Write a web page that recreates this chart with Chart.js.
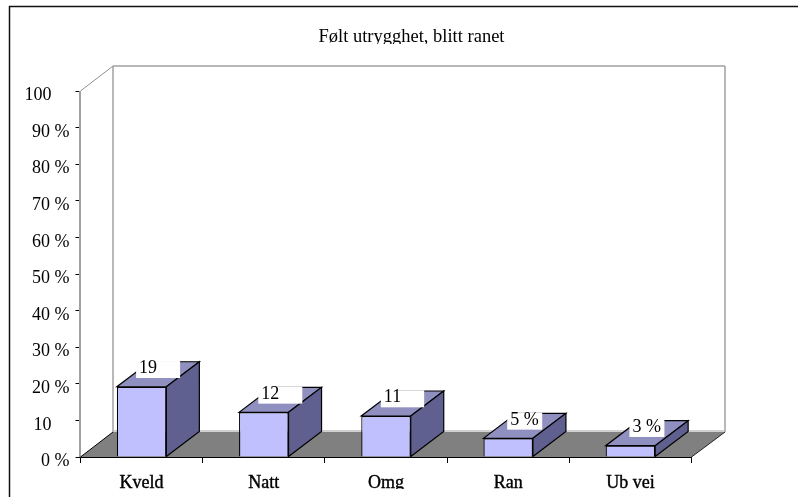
<!DOCTYPE html>
<html>
<head>
<meta charset="utf-8">
<style>html,body{margin:0;padding:0;background:#fff}canvas{display:block}</style>
<script src="https://cdn.jsdelivr.net/npm/chart.js@4"></script>
</head>
<body>
<canvas id="c" width="798" height="497"></canvas>
<script>
const categories = ['Kveld', 'Natt', 'Omg', 'Ran', 'Ub vei'];
const values = [19.2, 12.2, 11.2, 5.1, 3.1];
const pointLabels = ['19', '12', '11', '5 %', '3 %'];
const boxLabels = ['19 %', '12 %', '11 %', '5 %', '3 %'];
const yTickLabels = ['0 %', '10    ', '20 %', '30 %', '40 %', '50 %', '60 %', '70 %', '80 %', '90 %', '100    '];
const titleText = 'Følt utrygghet, blitt ranet';

const FONT = '"Liberation Serif"';
const DX = 33, DY = -25;

function poly(ctx, pts, fill, stroke, lw) {
  ctx.beginPath();
  pts.forEach((p, i) => i ? ctx.lineTo(p[0], p[1]) : ctx.moveTo(p[0], p[1]));
  ctx.closePath();
  if (fill) { ctx.fillStyle = fill; ctx.fill(); }
  if (stroke) { ctx.strokeStyle = stroke; ctx.lineWidth = lw || 1; ctx.stroke(); }
}
function line(ctx, a, b, color, lw) {
  ctx.beginPath(); ctx.moveTo(a[0], a[1]); ctx.lineTo(b[0], b[1]);
  ctx.strokeStyle = color; ctx.lineWidth = lw; ctx.stroke();
}

const scene3d = {
  id: 'scene3d',
  afterLayout(chart) { chart.titleBlock.left = 25; chart.titleBlock.right = 798; },
  beforeDraw(chart) {
    const c = chart.ctx;
    c.save();
    line(c, [9.5, 6], [9.5, 497], '#111', 1.5);
    line(c, [9, 6.5], [798, 6.5], '#111', 1.5);
    c.restore();
  },
  beforeDatasetsDraw(chart) {
    const c = chart.ctx, a = chart.chartArea;
    const bx = a.left + DX - 0.5, by = a.bottom + DY;
    const rx = a.right + DX + 0.5, ty = a.top + DY;
    c.save();
    line(c, [bx, ty], [bx, by], '#a0a0a0', 1.5);
    line(c, [bx, ty], [rx, ty], '#a0a0a0', 1.5);
    line(c, [rx, ty], [rx, by], '#a0a0a0', 1.5);
    line(c, [a.left, a.top], [bx, ty], '#909090', 1);
    line(c, [a.left - 0.5, a.top], [a.left - 0.5, a.bottom], '#a0a0a0', 2);
    line(c, [bx, by - 1], [rx, by - 1], '#c0c0c0', 1.5);
    poly(c, [[a.left, a.bottom], [a.right, a.bottom], [rx, by], [bx, by]], '#808080', null);
    line(c, [a.left, a.bottom], [bx, by], '#000', 1);
    line(c, [a.right, a.bottom], [rx, by], '#222', 1);
    c.restore();
  },
  afterDatasetsDraw(chart) {
    const c = chart.ctx;
    const bars = chart.getDatasetMeta(0).data;
    c.save();
    bars.forEach((b, i) => {
      const l = b.x - b.width / 2, r = b.x + b.width / 2, t = b.y, base = b.base;
      poly(c, [[l, t], [r, t], [r + DX, t + DY], [l + DX, t + DY]], '#9090c0', '#000', 1.2);
      poly(c, [[r, t], [r + DX, t + DY], [r + DX, base + DY], [r, base]], '#606090', '#000', 1.2);
    });
    c.font = '18px ' + FONT;
    c.textAlign = 'left';
    c.textBaseline = 'alphabetic';
    bars.forEach((b, i) => {
      const w = c.measureText(boxLabels[i]).width + 6.5;
      const cx = b.x + DX / 2;
      const boxL = cx - w / 2, boxB = b.y - 8.7, boxH = 17;
      c.fillStyle = '#fff';
      c.fillRect(boxL, boxB - boxH, w, boxH);
      c.fillStyle = '#000';
      c.fillText(pointLabels[i], boxL + 3, boxB - 5);
    });
    c.restore();
  },
  afterDraw(chart) {
    const c = chart.ctx;
    c.save();
    c.fillStyle = '#fff';
    c.fillRect(11, 489, 787, 8);
    c.fillRect(300, 44, 220, 7);
    c.restore();
  }
};

new Chart(document.getElementById('c'), {
  type: 'bar',
  data: {
    labels: categories,
    datasets: [{
      data: values,
      backgroundColor: '#c0c0ff',
      borderColor: '#000',
      borderWidth: 1.2,
      barPercentage: 0.405,
      categoryPercentage: 1
    }]
  },
  plugins: [scene3d],
  options: {
    responsive: false,
    animation: false,
    layout: { padding: { left: 0, right: 106.5, top: 0, bottom: 0 } },
    plugins: {
      legend: { display: false },
      tooltip: { enabled: false },
      title: {
        display: true,
        text: titleText,
        color: '#000',
        font: { family: FONT, size: 18.5, weight: 'normal' },
        padding: { top: 26.5, bottom: 42.3 }
      }
    },
    scales: {
      x: {
        z: 1,
        afterFit(s) { s.height = 40; },
        grid: { drawOnChartArea: false, color: '#000', tickLength: 6, tickColor: '#000' },
        border: { color: '#000', width: 2 },
        ticks: {
          color: '#000',
          font: { family: FONT, size: 18 },
          textStrokeColor: '#000',
          textStrokeWidth: 0.4,
          padding: 9,
          maxRotation: 0,
          autoSkip: false
        }
      },
      y: {
        z: 1,
        min: 0,
        max: 100,
        afterFit(s) { s.width = 80.5; },
        grid: { drawOnChartArea: false, color: '#000', tickLength: 5, tickColor: '#000' },
        border: { color: '#222', width: 1 },
        ticks: {
          stepSize: 10,
          autoSkip: false,
          color: '#000',
          font: { family: FONT, size: 18 },
          padding: 6,
          labelOffset: 4.5,
          callback: v => yTickLabels[v / 10]
        }
      }
    }
  }
});
</script>
</body>
</html>
